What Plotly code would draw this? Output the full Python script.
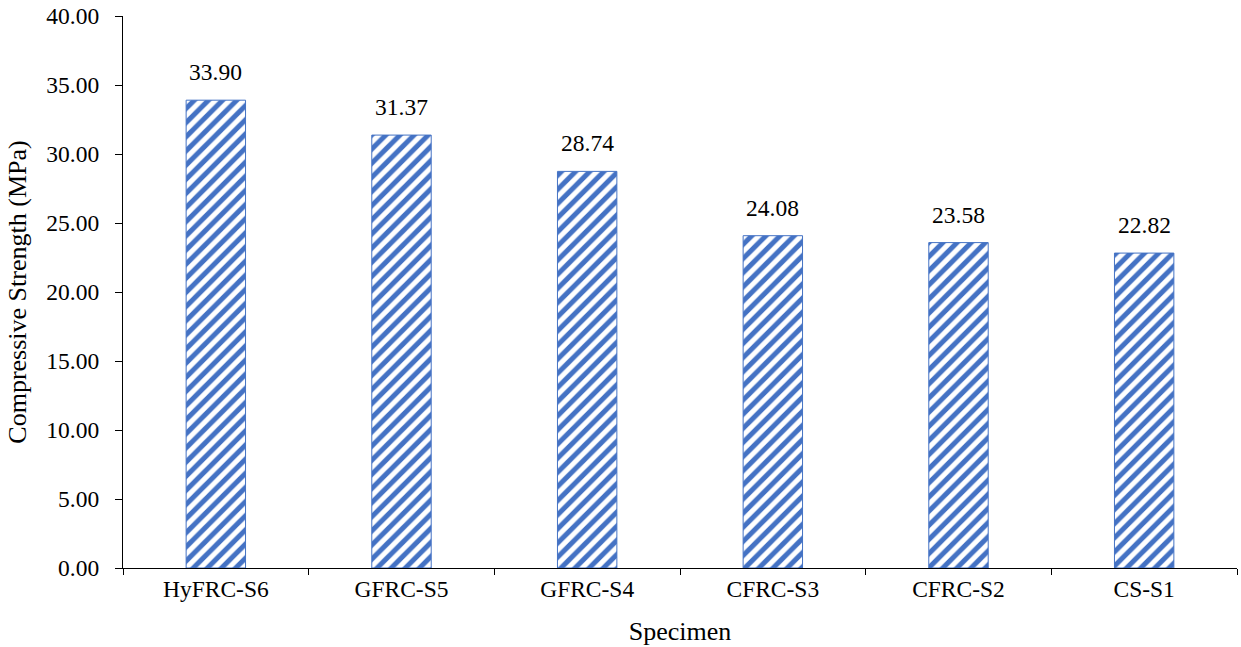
import plotly.graph_objects as go

specimens = ["HyFRC-S6", "GFRC-S5", "GFRC-S4", "CFRC-S3", "CFRC-S2", "CS-S1"]
strength = [33.90, 31.37, 28.74, 24.08, 23.58, 22.82]

blue = "#4472C4"
family = "Liberation Serif, Times New Roman, serif"
font = dict(family=family, size=23.5, color="black")
title_font = dict(family=family, size=26, color="black")

fig = go.Figure(
    go.Bar(
        x=specimens,
        y=strength,
        width=0.32,
        marker=dict(
            color="white",
            line=dict(color=blue, width=1),
            pattern=dict(shape="/", fgcolor=blue, bgcolor="white", fgopacity=1,
                         size=10, solidity=0.5),
        ),
        hoverinfo="x+y",
    )
)

# value labels above each bar
for name, val in zip(specimens, strength):
    fig.add_annotation(
        x=name, y=val, text=f"{val:.2f}", showarrow=False,
        yanchor="bottom", yshift=13, font=font,
    )

fig.update_layout(
    width=1241, height=647,
    margin=dict(l=123, r=4, t=16, b=79),
    paper_bgcolor="white", plot_bgcolor="white",
    font=font,
    showlegend=False,
    bargap=0.68,
)
fig.update_xaxes(
    title=dict(text="Specimen", font=title_font, standoff=20),
    showline=True, linecolor="black", linewidth=1.2,
    ticks="outside", tickson="boundaries", ticklen=6, tickcolor="black",
    showgrid=False, tickfont=font,
)
fig.update_yaxes(
    title=dict(text="Compressive Strength (MPa)", font=title_font, standoff=12),
    range=[0, 40], dtick=5, tickformat=".2f",
    showline=True, linecolor="black", linewidth=1.2,
    ticks="outside", ticklen=7, tickcolor="black", ticklabelstandoff=11,
    showgrid=False, zeroline=False, tickfont=font,
)

fig.write_html("out.html")
